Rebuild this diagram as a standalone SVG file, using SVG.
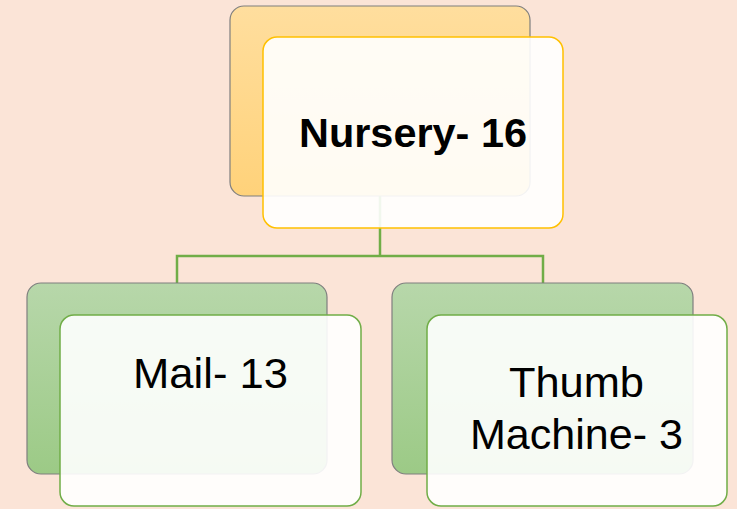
<svg xmlns="http://www.w3.org/2000/svg" width="737" height="509" viewBox="0 0 737 509">
<defs>
<linearGradient id="gOr" x1="0" y1="0" x2="0" y2="1"><stop offset="0" stop-color="#FFDE9E"/><stop offset="1" stop-color="#FFD27A"/></linearGradient>
<linearGradient id="gGr" x1="0" y1="0" x2="0" y2="1"><stop offset="0" stop-color="#B7D7AA"/><stop offset="1" stop-color="#9CCA86"/></linearGradient>
<style>
.back{stroke:#7f7f7f;stroke-width:1.2}
.front{fill:#ffffff;fill-opacity:0.9;stroke-width:1.5}
.t{font-family:"Liberation Sans",Arial,sans-serif;fill:#000}
.conn{fill:none;stroke:#70AD47;stroke-width:2.5}
</style>
</defs>
<rect width="737" height="509" fill="#FBE4D7"/>
<g id="connectors">
<path class="conn" d="M380,196 V256 M177,283 V256 H543 V283"/>
</g>
<g id="node-nursery">
<rect class="back" x="230" y="6" width="300" height="190" rx="14" fill="url(#gOr)"/>
<rect class="front" x="263" y="37" width="300" height="191" rx="14" stroke="#FFC000"/>
<text class="t" x="413" y="147" font-size="41" font-weight="bold" text-anchor="middle" textLength="228" lengthAdjust="spacingAndGlyphs">Nursery- 16</text>
</g>
<g id="node-mail">
<rect class="back" x="27" y="283" width="300" height="191" rx="14" fill="url(#gGr)"/>
<rect class="front" x="60" y="315" width="301" height="191" rx="14" stroke="#70AD47"/>
<text class="t" x="210.5" y="388" font-size="42" text-anchor="middle" textLength="155" lengthAdjust="spacingAndGlyphs">Mail- 13</text>
</g>
<g id="node-thumb">
<rect class="back" x="392" y="283" width="301" height="191" rx="14" fill="url(#gGr)"/>
<rect class="front" x="427" y="315" width="300" height="191" rx="14" stroke="#70AD47"/>
<text class="t" x="576.5" y="397" font-size="42" text-anchor="middle" textLength="135" lengthAdjust="spacingAndGlyphs">Thumb</text>
<text class="t" x="576.5" y="449" font-size="42" text-anchor="middle" textLength="213" lengthAdjust="spacingAndGlyphs">Machine- 3</text>
</g>
</svg>
